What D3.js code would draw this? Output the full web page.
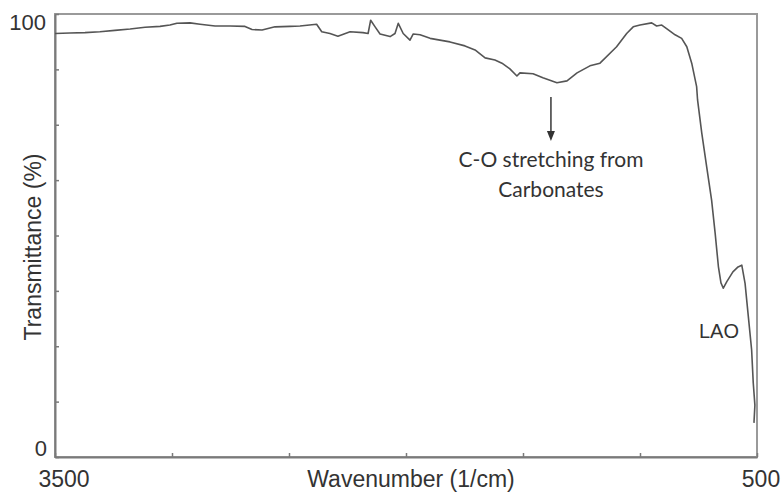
<!DOCTYPE html>
<html>
<head>
<meta charset="utf-8">
<script src="https://cdn.jsdelivr.net/npm/d3@7"></script>
<style>
  html, body { margin: 0; padding: 0; background: #fff; }
  svg { display: block; }
</style>
</head>
<body>
<svg id="chart" width="783" height="492"></svg>
<script>
// FTIR spectrum of LAO: wavenumber (1/cm) vs transmittance (%)
const wavenumber = [3500, 3436, 3372, 3308, 3244, 3179, 3115, 3051, 3009, 2979,
  2923, 2880, 2816, 2752, 2688, 2658, 2615, 2560, 2496, 2453,
  2382, 2360, 2325, 2291, 2239, 2184, 2162, 2151, 2132, 2111,
  2068, 2047, 2033, 2012, 1983, 1969, 1940, 1897, 1855, 1812,
  1748, 1705, 1662, 1620, 1590, 1556, 1526, 1513, 1457, 1415,
  1355, 1312, 1269, 1214, 1171, 1100, 1057, 1029, 1000, 950,
  929, 907, 879, 850, 822, 800, 779, 758, 754, 736,
  715, 694, 679, 665, 654, 644, 629, 603, 581, 565,
  551, 537, 523, 516, 509, 513];
const transmittance = [95.6, 95.7, 95.8, 96.0, 96.3, 96.6, 97.0, 97.2, 97.5, 97.9,
  98.0, 97.7, 97.3, 97.3, 97.2, 96.5, 96.4, 97.1, 97.2, 97.3,
  97.7, 96.0, 95.6, 95.0, 96.0, 95.8, 95.6, 98.6, 97.1, 95.5,
  94.9, 95.6, 97.9, 95.6, 94.1, 95.5, 95.3, 94.5, 94.1, 93.7,
  92.8, 91.9, 90.1, 89.6, 88.9, 87.6, 86.0, 86.7, 86.5, 85.6,
  84.5, 84.9, 86.7, 88.3, 88.9, 92.6, 95.6, 97.1, 97.5, 98.0,
  97.3, 97.5, 96.4, 95.3, 94.5, 92.6, 88.9, 83.6, 80.6, 73.1,
  65.5, 58.0, 50.6, 43.0, 39.3, 38.1, 39.6, 41.8, 42.9, 43.3,
  39.2, 31.7, 24.2, 16.7, 11.7, 7.7];

const xTicks = [3500, 3000, 2500, 2000, 1500, 1000, 500];
const yTicks = [0, 12.5, 25, 37.5, 50, 62.5, 75, 87.5, 100];
const xTickLabels = ["3500", "500"];
const yTickLabels = ["0", "100"];

const xTitle = "Wavenumber (1/cm)";
const yTitle = "Transmittance (%)";
const noteLines = ["C-O stretching from", "Carbonates"];
const noteWavenumber = 1355;
const sampleLabel = "LAO";

const svg = d3.select("#chart");
const plot = { left: 55, right: 757, top: 14, bottom: 457 };

const x = d3.scaleLinear().domain([3500, 500]).range([plot.left, plot.right]);
const y = d3.scaleLinear().domain([0, 100]).range([plot.bottom, plot.top]);

const axisColor = "#7a7a7a";
const textFont = "'Liberation Sans', Arial, Helvetica, sans-serif";

// frame
svg.append("rect")
  .attr("x", plot.left).attr("y", plot.top)
  .attr("width", plot.right - plot.left).attr("height", plot.bottom - plot.top)
  .attr("fill", "none").attr("stroke", "#9a9a9a").attr("stroke-width", 2);

// bottom axis with small inward ticks
const xAxis = svg.append("g")
  .attr("transform", `translate(0,${plot.bottom})`)
  .call(d3.axisBottom(x).tickValues(xTicks).tickSizeInner(-4).tickSizeOuter(0).tickFormat(""));
xAxis.select(".domain").attr("stroke", axisColor).attr("stroke-width", 2);
xAxis.selectAll(".tick line").attr("stroke", axisColor).attr("stroke-width", 1.5);

// left axis with small inward ticks
const yAxis = svg.append("g")
  .attr("transform", `translate(${plot.left},0)`)
  .call(d3.axisLeft(y).tickValues(yTicks).tickSizeInner(-4).tickSizeOuter(0).tickFormat(""));
yAxis.select(".domain").attr("stroke", axisColor).attr("stroke-width", 2);
yAxis.selectAll(".tick line").attr("stroke", axisColor).attr("stroke-width", 1.5);

// tick labels at the ends only
svg.append("text").text(yTickLabels[1])
  .attr("x", 46).attr("y", 30).attr("text-anchor", "end")
  .attr("font-family", textFont).attr("font-size", 22).attr("fill", "#333");
svg.append("text").text(yTickLabels[0])
  .attr("x", 47).attr("y", 456).attr("text-anchor", "end")
  .attr("font-family", textFont).attr("font-size", 22).attr("fill", "#333");
svg.append("text").text(xTickLabels[0])
  .attr("x", x(3500) + 9).attr("y", 487).attr("text-anchor", "middle")
  .attr("font-family", textFont).attr("font-size", 23).attr("fill", "#333");
svg.append("text").text(xTickLabels[1])
  .attr("x", x(500) + 4).attr("y", 487).attr("text-anchor", "middle")
  .attr("font-family", textFont).attr("font-size", 23).attr("fill", "#333");

// axis titles
svg.append("text").text(xTitle)
  .attr("x", 411).attr("y", 487).attr("text-anchor", "middle")
  .attr("font-family", textFont).attr("font-size", 23).attr("fill", "#333");
svg.append("text").text(yTitle)
  .attr("transform", "translate(41,247) rotate(-90)")
  .attr("text-anchor", "middle")
  .attr("font-family", textFont).attr("font-size", 23).attr("fill", "#333");

// spectrum
const pts = wavenumber.map((w, i) => [w, transmittance[i]]);
svg.append("path")
  .datum(pts)
  .attr("fill", "none")
  .attr("stroke", "#555")
  .attr("stroke-width", 1.6)
  .attr("stroke-linejoin", "round")
  .attr("d", d3.line().x(d => x(d[0])).y(d => y(d[1])));

// carbonate annotation arrow
const ax = x(noteWavenumber) - 6;
svg.append("line")
  .attr("x1", ax).attr("x2", ax).attr("y1", 97).attr("y2", 132)
  .attr("stroke", "#444").attr("stroke-width", 1.6);
svg.append("path")
  .attr("d", `M${ax - 4},131 L${ax + 4},131 L${ax},141 Z`)
  .attr("fill", "#333");

svg.selectAll("text.note")
  .data(noteLines)
  .enter().append("text")
  .attr("class", "note")
  .text(d => d)
  .attr("x", 551)
  .attr("y", (d, i) => 167 + i * 30)
  .attr("text-anchor", "middle")
  .attr("font-family", "Lato, 'Open Sans', sans-serif")
  .attr("font-size", 21)
  .attr("fill", "#333");

svg.append("text").text(sampleLabel)
  .attr("x", 719).attr("y", 338).attr("text-anchor", "middle")
  .attr("font-family", textFont).attr("font-size", 20).attr("fill", "#333");
</script>
</body>
</html>
